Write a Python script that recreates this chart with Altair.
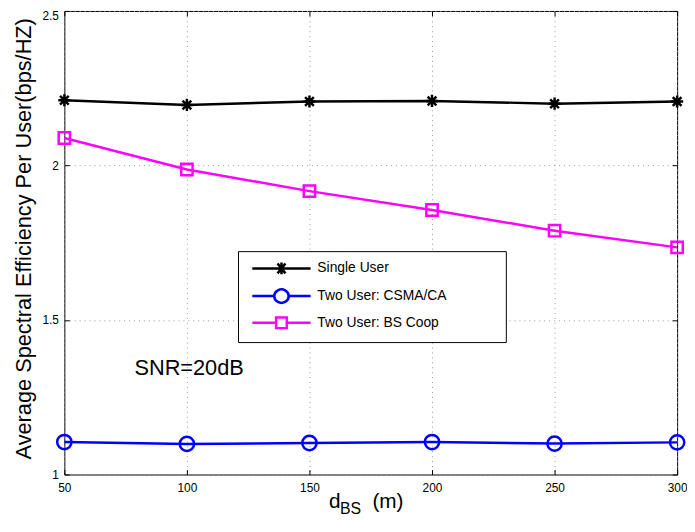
import altair as alt
import pandas as pd

# ---------------- data ----------------
d_bs = [50, 100, 150, 200, 250, 300]
single_user = [2.211, 2.196, 2.207, 2.209, 2.200, 2.207]
two_user_csma = [1.105, 1.099, 1.102, 1.105, 1.100, 1.104]
two_user_coop = [2.089, 1.987, 1.917, 1.856, 1.789, 1.735]
series_names = ["Single User", "Two User: CSMA/CA", "Two User: BS Coop"]
series_colors = ["#000000", "#0000ff", "#ff00ff"]
x_ticks = [50, 100, 150, 200, 250, 300]
y_ticks = [1, 1.5, 2, 2.5]
y_title = "Average Spectral Efficiency Per User(bps/HZ)"
annotation_text = ["SNR=20dB"]
annotation_x = [78.6]
annotation_y = [1.323]

rows = []
for name, vals in zip(series_names, [single_user, two_user_csma, two_user_coop]):
    for xv, yv in zip(d_bs, vals):
        rows.append({"d": xv, "eff": yv, "series": name})
df = pd.DataFrame(rows)

FONT = "Liberation Sans"

# ---------------- marker shapes ----------------
plot_shapes = [
    "M-1,0H1M0,-1V1M-0.72,-0.72L0.72,0.72M-0.72,0.72L0.72,-0.72",
    "circle",
    "square",
]
plot_sizes = [150, 210, 132]

R = 7.0  # legend symbol unit (sqrt(196)/2)
def u(v):
    return f"{v / R:.3f}"

L0, L1, C = -3.0, 56.0, 26.5
leg_star = (f"M{u(L0)},0H{u(L1)}"
            f"M{u(C-5.0)},0H{u(C+5.0)}M{u(C)},{u(-6.0)}V{u(6.0)}"
            f"M{u(C-4.0)},{u(-5.0)}L{u(C+4.0)},{u(5.0)}"
            f"M{u(C-4.0)},{u(5.0)}L{u(C+4.0)},{u(-5.0)}")
leg_circle = (f"M{u(L0)},0H{u(C-7.25)}M{u(C+7.25)},0H{u(L1)}"
              f"M{u(C-7.25)},0A{u(7.25)},{u(6.6)} 0 1 0 {u(C+7.25)},0"
              f"A{u(7.25)},{u(6.6)} 0 1 0 {u(C-7.25)},0Z")
leg_square = (f"M{u(L0)},0H{u(C-5.4)}M{u(C+5.4)},0H{u(L1)}"
              f"M{u(C-5.4)},{u(-5.4)}H{u(C+5.4)}V{u(5.4)}H{u(C-5.4)}Z")
legend_shapes = [leg_star, leg_circle, leg_square]

# ---------------- scales ----------------
x_scale = alt.Scale(domain=[50, 300], nice=False, zero=False)
y_scale = alt.Scale(domain=[1, 2.5], nice=False, zero=False)
color_scale = alt.Scale(domain=series_names, range=series_colors)

base = alt.Chart(df)

x_main_axis = alt.Axis(
    orient="bottom", values=x_ticks, title=None, grid=True, gridColor="#999999",
    gridDash=[1, 4], gridWidth=1, ticks=False, tickSize=0, domain=False,
    labelFont=FONT, labelFontSize=12, labelColor="black", labelPadding=8,
    labelAngle=0, labelFlush=False, format="d")
y_main_axis = alt.Axis(
    orient="left", values=y_ticks, title=y_title, grid=True, gridColor="#999999",
    gridDash=[1, 4], gridWidth=1, ticks=False, tickSize=0, domain=False,
    labelFont=FONT, labelFontSize=12, labelColor="black", labelPadding=6,
    labelFlush=False, format="~g",
    labelBaseline={"condition": {"test": "datum.value == 2.5", "value": "top"}, "value": "middle"},
    titleFont=FONT, titleFontSize=22, titleFontWeight="normal", titleColor="black",
    titleX=-34, titleY=230, titleAngle=270, titleAlign="center",
    titleBaseline="alphabetic")

def tick_axis(orient, vals):
    return alt.Axis(orient=orient, offset=-5, values=vals, labels=False,
                    domain=False, grid=False, ticks=True, tickSize=5,
                    tickColor="black", tickWidth=1, title=None)

axes_cfg = [
    (x_main_axis, y_main_axis),
    (tick_axis("bottom", x_ticks), tick_axis("left", y_ticks)),
    (tick_axis("top", x_ticks), tick_axis("right", y_ticks)),
]

line_layers = []
point_layers = []
for name, col, shp, sz, (xa, ya) in zip(series_names, series_colors, plot_shapes,
                                         plot_sizes, axes_cfg):
    sub = base.transform_filter(alt.datum.series == name)
    line_layers.append(sub.mark_line(strokeWidth=2.5, color=col).encode(
        x=alt.X("d:Q", scale=x_scale, axis=xa),
        y=alt.Y("eff:Q", scale=y_scale, axis=ya),
    ))
    point_layers.append(sub.mark_point(
        shape=shp, filled=False, size=sz, strokeWidth=2.5, color=col, opacity=1
    ).encode(
        x=alt.X("d:Q", scale=x_scale, axis=None),
        y=alt.Y("eff:Q", scale=y_scale, axis=None),
    ))

pad = "\u00a0" * 13 + "\u200b"
legend_def = alt.Legend(
    title=None, orient="none", legendX=175.7, legendY=243,
    strokeColor="black", fillColor="white", padding=9,
    symbolSize=196, symbolStrokeWidth=2.5, labelFont=FONT, labelFontSize=14,
    labelColor="black", labelOffset=54.3, rowPadding=4, labelLimit=400,
    labelExpr="datum.label + '" + pad + "'",
)

legend_layer = base.transform_filter("false").mark_point(
    filled=False, strokeWidth=2.5, opacity=1
).encode(
    x=alt.X("d:Q", scale=x_scale, axis=None),
    y=alt.Y("eff:Q", scale=y_scale, axis=None),
    color=alt.Color("series:N", scale=color_scale, legend=legend_def),
    shape=alt.Shape("series:N", scale=alt.Scale(domain=series_names, range=legend_shapes),
                    legend=legend_def),
)

ann_df = pd.DataFrame({"x": annotation_x, "y": annotation_y, "t": annotation_text})
annotation = alt.Chart(ann_df).mark_text(
    align="left", baseline="alphabetic", font=FONT, fontSize=22, color="black"
).encode(
    x=alt.X("x:Q", scale=x_scale, axis=None),
    y=alt.Y("y:Q", scale=y_scale, axis=None),
    text="t:N",
)

title_df = pd.DataFrame({"t": ["d"]})
xt_d = alt.Chart(title_df).mark_text(
    align="left", baseline="alphabetic", font=FONT, fontSize=21, color="black"
).encode(x=alt.value(267.7), y=alt.value(503), text=alt.value("d"))
xt_bs = alt.Chart(title_df).mark_text(
    align="left", baseline="alphabetic", font=FONT, fontSize=16, color="black"
).encode(x=alt.value(279), y=alt.value(509), text=alt.value("BS"))
xt_m = alt.Chart(title_df).mark_text(
    align="left", baseline="alphabetic", font=FONT, fontSize=21, color="black"
).encode(x=alt.value(311.7), y=alt.value(503), text=alt.value("(m)"))

chart = alt.layer(
    *line_layers, *point_layers, legend_layer, annotation, xt_d, xt_bs, xt_m
).resolve_axis(
    x="independent", y="independent"
).properties(
    width=620, height=469,
    padding={"left": 57, "top": 0, "right": 10, "bottom": 41},
    autosize=alt.AutoSizeParams(type="none"),
).configure(font=FONT).configure_view(stroke="black", strokeWidth=1)

chart.save("out.html", embed_options={"renderer": "svg", "actions": False})
